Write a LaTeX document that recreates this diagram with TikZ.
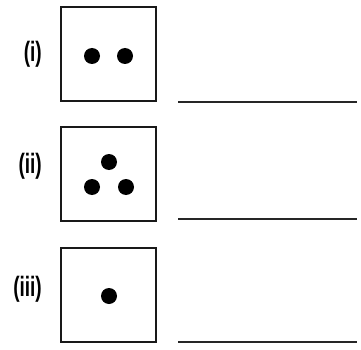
\documentclass[tikz,border=0pt]{standalone}
\usepackage{graphicx}
\usepackage{fontspec}
\setmainfont{Liberation Sans}
\newcommand{\tallbold}[1]{\scalebox{0.95}[1.4]{\bfseries\fontsize{20}{22}\selectfont #1}}
\begin{document}
\begin{tikzpicture}[x=1pt,y=-1pt,
  panel/.style={draw=black!90,line width=1.8pt,minimum width=95pt,minimum height=94pt,inner sep=0pt},
  dot/.style={circle,fill=black,minimum size=16pt,inner sep=0pt},
  tag/.style={inner sep=0pt,anchor=east},
  answer/.style={draw=black!85,line width=1.8pt}]
\useasboundingbox (0,0) rectangle (361,350);

% part (i): two dots
\node[tag] (t1) at (42,54) {\tallbold{(i)}};
\node[panel] (p1) at (108.5,54) {};
\node[dot] (d11) at (92,56) {};
\node[dot] (d12) at (125,56) {};
\coordinate (a1s) at (178,102);
\coordinate (a1e) at (357,102);
\draw[answer] (a1s) -- (a1e);

% part (ii): three dots in a triangle
\node[tag] (t2) at (42,166) {\tallbold{(ii)}};
\node[panel] (p2) at (108.5,174) {};
\node[dot] (d21) at (109,162) {};
\node[dot] (d22) at (92,187) {};
\node[dot] (d23) at (126,187) {};
\coordinate (a2s) at (178,219);
\coordinate (a2e) at (357,219);
\draw[answer] (a2s) -- (a2e);

% part (iii): one dot
\node[tag] (t3) at (42,289) {\tallbold{(iii)}};
\node[panel] (p3) at (108.5,295) {};
\node[dot] (d31) at (109,296) {};
\coordinate (a3s) at (178,342);
\coordinate (a3e) at (357,342);
\draw[answer] (a3s) -- (a3e);
\end{tikzpicture}
\end{document}
